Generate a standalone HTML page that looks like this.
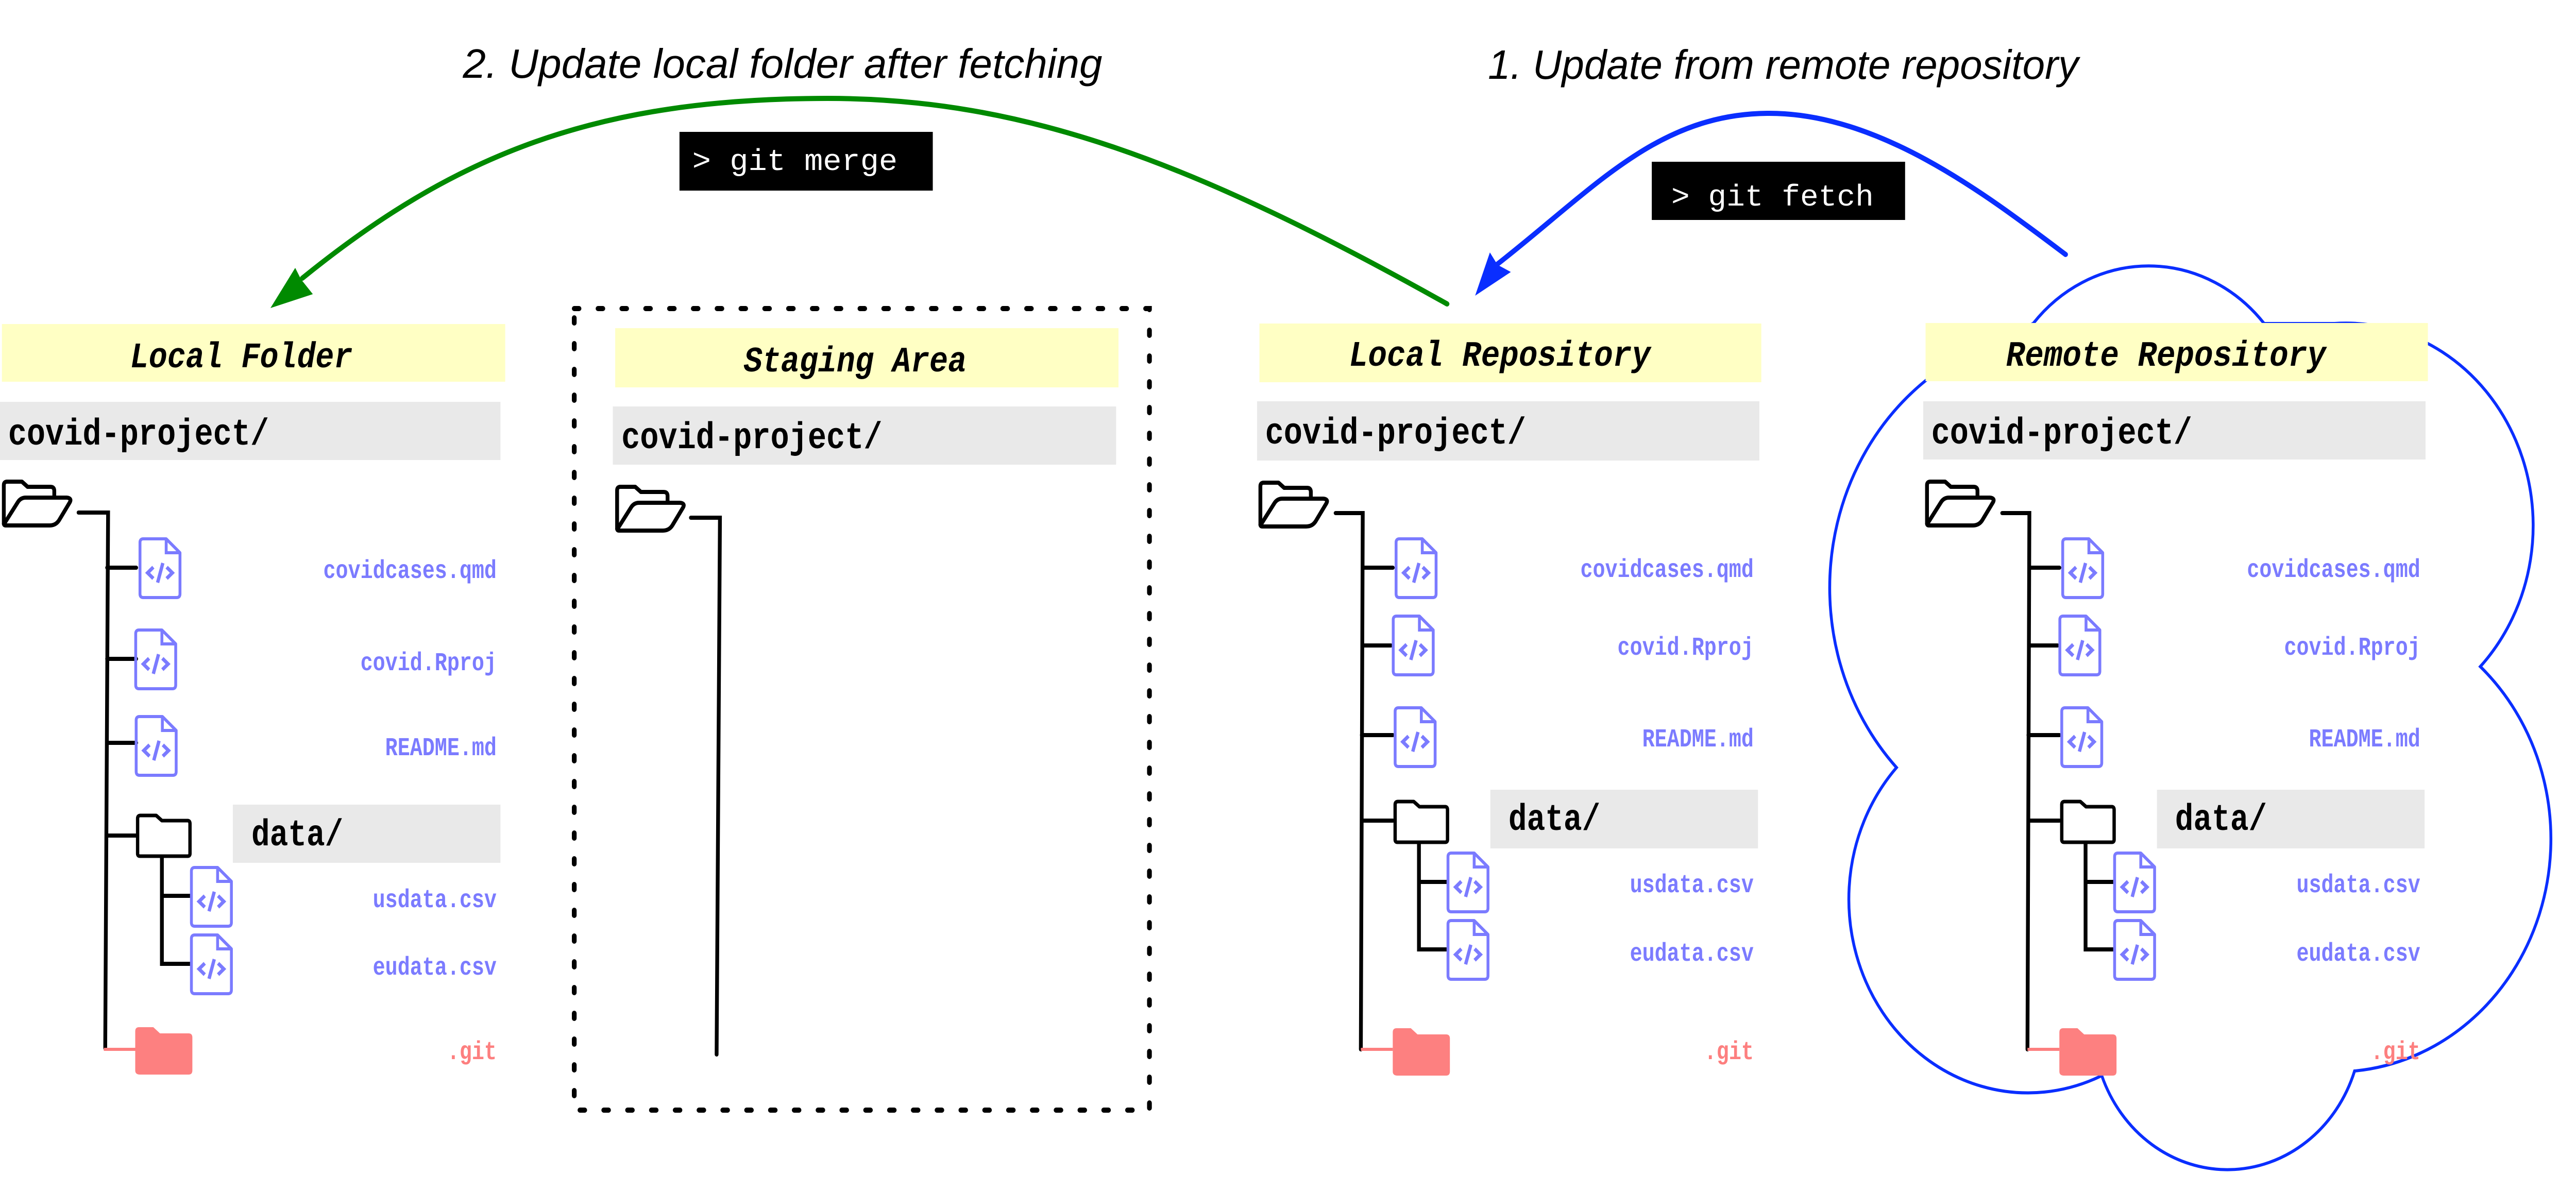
<!DOCTYPE html>
<html><head><meta charset="utf-8"><style>
html,body{margin:0;padding:0;background:#fff;width:100%;height:100%;overflow:hidden;}
svg{display:block;width:100vw;height:100vh;}
.t{font-family:"Liberation Mono",monospace;font-weight:bold;font-style:italic;font-size:70px;fill:#000;}
.cp{font-family:"Liberation Mono",monospace;font-weight:bold;font-size:72px;fill:#000;}
.lb{font-family:"Liberation Mono",monospace;font-weight:bold;font-size:50px;fill:#7b7bff;}
.git{font-family:"Liberation Mono",monospace;font-weight:bold;font-size:50px;fill:#fd7f7f;}
.cmd{font-family:"Liberation Mono",monospace;font-size:58px;fill:#fff;}
.hd{font-family:"Liberation Sans",sans-serif;font-style:italic;font-size:80px;fill:#000;}
.tr{stroke:#000;stroke-width:8;fill:none;stroke-linecap:round;}
</style></head><body>
<svg viewBox="0 0 5410 2312" preserveAspectRatio="none" xmlns="http://www.w3.org/2000/svg">
<defs>
<g id="file">
 <path d="M10 3 H58 L87 30 V110 Q87 117 80 117 H10 Q3 117 3 110 V10 Q3 3 10 3 Z" fill="none" stroke="#7b7bff" stroke-width="6" stroke-linejoin="round"/>
 <path d="M58 3 V30 H87" fill="none" stroke="#7b7bff" stroke-width="6"/>
 <path d="M31 58 L19 69 L31 80 M59 58 L71 69 L59 80 M51 50 L40 88" fill="none" stroke="#7b7bff" stroke-width="7"/>
</g>
<g id="ofold">
 <path d="M6 88 V12 Q6 5 13 5 H44 L56 15 H104 Q112 15 112 23 V34" fill="none" stroke="#000" stroke-width="8" stroke-linejoin="round"/>
 <path d="M6 88 L36 44 Q42 36 52 36 H138 Q150 37 144 46 L122 80 Q115 90 102 90 H10 Q6 90 6 86" fill="none" stroke="#000" stroke-width="8" stroke-linejoin="round"/>
</g>
<g id="cfold">
 <path d="M5 10 Q5 4 11 4 H44 L56 14 H110 Q115 14 115 20 V78 Q115 83 110 83 H10 Q5 83 5 78 Z" fill="none" stroke="#000" stroke-width="7" stroke-linejoin="round"/>
</g>
<g id="pfold">
 <path d="M0 8 Q0 0 8 0 H38 L52 12 H112 Q120 12 120 20 V84 Q120 92 112 92 H10 Q0 92 0 84 Z" fill="#fd8080"/>
</g>
</defs>

<text class="hd" x="972" y="151" textLength="1343" lengthAdjust="spacingAndGlyphs">2. Update local folder after fetching</text>
<text class="hd" x="3125" y="153" textLength="1240" lengthAdjust="spacingAndGlyphs">1. Update from remote repository</text>

<path d="M3039 590 C2506 314 2150 191 1738 191 C1250 191 955 300 635 540" fill="none" stroke="#008a00" stroke-width="10" stroke-linecap="round"/>
<polygon points="568,598 620,520 632,542 657,571" fill="#008a00"/>
<path d="M4338 494 C4174 380 3950 220 3716 220 C3480 220 3347 367 3143 514" fill="none" stroke="#0a2eff" stroke-width="10" stroke-linecap="round"/>
<polygon points="3098,574 3129,490 3145,514 3173,528" fill="#0a2eff"/>

<rect x="1427" y="256" width="532" height="114" fill="#000"/>
<text class="cmd" x="1454" y="330" textLength="431" lengthAdjust="spacingAndGlyphs">&gt; git merge</text>
<rect x="3469" y="314" width="532" height="113" fill="#000"/>
<text class="cmd" x="3510" y="399" textLength="425" lengthAdjust="spacingAndGlyphs">&gt; git fetch</text>

<path d="M4270 628 A319 319 0 0 1 4755 628 L4903 628 A393 393 0 0 1 5209 1294 A452 452 0 0 1 4945 2079 A282 282 0 0 1 4414 2088 A376 376 0 0 1 3983 1490 A503 503 0 0 1 4200 660 Z" fill="none" stroke="#0a2eff" stroke-width="6"/>

<rect x="1206" y="599" width="1208" height="1556" fill="none" stroke="#000" stroke-width="10" stroke-dasharray="10 40" stroke-linecap="round"/>

<rect x="4" y="629" width="1057" height="112" fill="#ffffc4"/>
<text class="t" x="507" y="713" text-anchor="middle" textLength="467" lengthAdjust="spacingAndGlyphs">Local Folder</text>
<rect x="0" y="780" width="1051" height="113" fill="#e9e9e9"/>
<text class="cp" x="17" y="863" textLength="548" lengthAdjust="spacingAndGlyphs">covid-project/</text>
<use href="#ofold" x="2" y="930"/>
<path class="tr" d="M165 995 H227 L221 2035 M225 1102 H286 M225 1279 H286 M225 1442 H286 M224 1622 H286 M340 1664 V1871 H399 M340 1739 H399"/>
<path d="M218 2037 H286" stroke="#fd7f7f" stroke-width="6"/>
<use href="#file" x="291" y="1043"/>
<use href="#file" x="282" y="1220"/>
<use href="#file" x="283" y="1388"/>
<use href="#cfold" x="284" y="1579"/>
<rect x="489" y="1562" width="562" height="113" fill="#e9e9e9"/>
<text class="cp" x="528" y="1641" textLength="193" lengthAdjust="spacingAndGlyphs">data/</text>
<use href="#file" x="399" y="1681"/>
<use href="#file" x="399" y="1812"/>
<use href="#pfold" x="284" y="1994"/>
<text class="lb" x="1043" y="1122" text-anchor="end" textLength="364" lengthAdjust="spacingAndGlyphs">covidcases.qmd</text>
<text class="lb" x="1043" y="1301" text-anchor="end" textLength="286" lengthAdjust="spacingAndGlyphs">covid.Rproj</text>
<text class="lb" x="1043" y="1466" text-anchor="end" textLength="234" lengthAdjust="spacingAndGlyphs">README.md</text>
<text class="lb" x="1043" y="1761" text-anchor="end" textLength="260" lengthAdjust="spacingAndGlyphs">usdata.csv</text>
<text class="lb" x="1043" y="1892" text-anchor="end" textLength="260" lengthAdjust="spacingAndGlyphs">eudata.csv</text>
<text class="git" x="1043" y="2056" text-anchor="end" textLength="104" lengthAdjust="spacingAndGlyphs">.git</text>

<rect x="1292" y="637" width="1057" height="115" fill="#ffffc4"/>
<text class="t" x="1796" y="721" text-anchor="middle" textLength="468" lengthAdjust="spacingAndGlyphs">Staging Area</text>
<rect x="1287" y="789" width="1057" height="113" fill="#e9e9e9"/>
<text class="cp" x="1305" y="870" textLength="548" lengthAdjust="spacingAndGlyphs">covid-project/</text>
<use href="#ofold" x="1290" y="940"/>
<path class="tr" d="M1451 1005 H1512 L1505 2047"/>

<rect x="2645" y="628" width="1054" height="114" fill="#ffffc4"/>
<text class="t" x="3150" y="710" text-anchor="middle" textLength="633" lengthAdjust="spacingAndGlyphs">Local Repository</text>
<rect x="2640" y="779" width="1055" height="115" fill="#e9e9e9"/>
<text class="cp" x="2657" y="861" textLength="548" lengthAdjust="spacingAndGlyphs">covid-project/</text>
<use href="#ofold" x="2641" y="932"/>
<path class="tr" d="M2805 996 H2862 L2858 2037 M2862 1102 H2925 M2862 1253 H2921 M2860 1427 H2925 M2860 1593 H2925 M2980 1637 V1843 H3038 M2980 1712 H3038"/>
<path d="M2858 2037 H2925" stroke="#fd7f7f" stroke-width="6"/>
<use href="#file" x="2929" y="1043"/>
<use href="#file" x="2923" y="1193"/>
<use href="#file" x="2927" y="1371"/>
<use href="#cfold" x="2925" y="1552"/>
<rect x="3130" y="1533" width="562" height="114" fill="#e9e9e9"/>
<text class="cp" x="3168" y="1611" textLength="193" lengthAdjust="spacingAndGlyphs">data/</text>
<use href="#file" x="3038" y="1653"/>
<use href="#file" x="3038" y="1784"/>
<use href="#pfold" x="2925" y="1996"/>
<text class="lb" x="3683" y="1120" text-anchor="end" textLength="364" lengthAdjust="spacingAndGlyphs">covidcases.qmd</text>
<text class="lb" x="3683" y="1271" text-anchor="end" textLength="286" lengthAdjust="spacingAndGlyphs">covid.Rproj</text>
<text class="lb" x="3683" y="1449" text-anchor="end" textLength="234" lengthAdjust="spacingAndGlyphs">README.md</text>
<text class="lb" x="3683" y="1732" text-anchor="end" textLength="260" lengthAdjust="spacingAndGlyphs">usdata.csv</text>
<text class="lb" x="3683" y="1865" text-anchor="end" textLength="260" lengthAdjust="spacingAndGlyphs">eudata.csv</text>
<text class="git" x="3683" y="2056" text-anchor="end" textLength="104" lengthAdjust="spacingAndGlyphs">.git</text>

<rect x="4044" y="627" width="1055" height="113" fill="#ffffc4"/>
<text class="t" x="4549" y="710" text-anchor="middle" textLength="672" lengthAdjust="spacingAndGlyphs">Remote Repository</text>
<rect x="4039" y="779" width="1055" height="113" fill="#e9e9e9"/>
<text class="cp" x="4056" y="861" textLength="548" lengthAdjust="spacingAndGlyphs">covid-project/</text>
<use href="#ofold" x="4041" y="930"/>
<path class="tr" d="M4205 996 H4262 L4258 2037 M4262 1102 H4325 M4262 1253 H4321 M4260 1427 H4325 M4260 1593 H4325 M4380 1637 V1843 H4438 M4380 1712 H4438"/>
<path d="M4258 2037 H4325" stroke="#fd7f7f" stroke-width="6"/>
<use href="#file" x="4329" y="1043"/>
<use href="#file" x="4323" y="1193"/>
<use href="#file" x="4327" y="1371"/>
<use href="#cfold" x="4325" y="1552"/>
<rect x="4530" y="1533" width="562" height="114" fill="#e9e9e9"/>
<text class="cp" x="4568" y="1611" textLength="193" lengthAdjust="spacingAndGlyphs">data/</text>
<use href="#file" x="4438" y="1653"/>
<use href="#file" x="4438" y="1784"/>
<use href="#pfold" x="4325" y="1996"/>
<text class="lb" x="5083" y="1120" text-anchor="end" textLength="364" lengthAdjust="spacingAndGlyphs">covidcases.qmd</text>
<text class="lb" x="5083" y="1271" text-anchor="end" textLength="286" lengthAdjust="spacingAndGlyphs">covid.Rproj</text>
<text class="lb" x="5083" y="1449" text-anchor="end" textLength="234" lengthAdjust="spacingAndGlyphs">README.md</text>
<text class="lb" x="5083" y="1732" text-anchor="end" textLength="260" lengthAdjust="spacingAndGlyphs">usdata.csv</text>
<text class="lb" x="5083" y="1865" text-anchor="end" textLength="260" lengthAdjust="spacingAndGlyphs">eudata.csv</text>
<text class="git" x="5083" y="2056" text-anchor="end" textLength="104" lengthAdjust="spacingAndGlyphs">.git</text>
</svg>
</body></html>
